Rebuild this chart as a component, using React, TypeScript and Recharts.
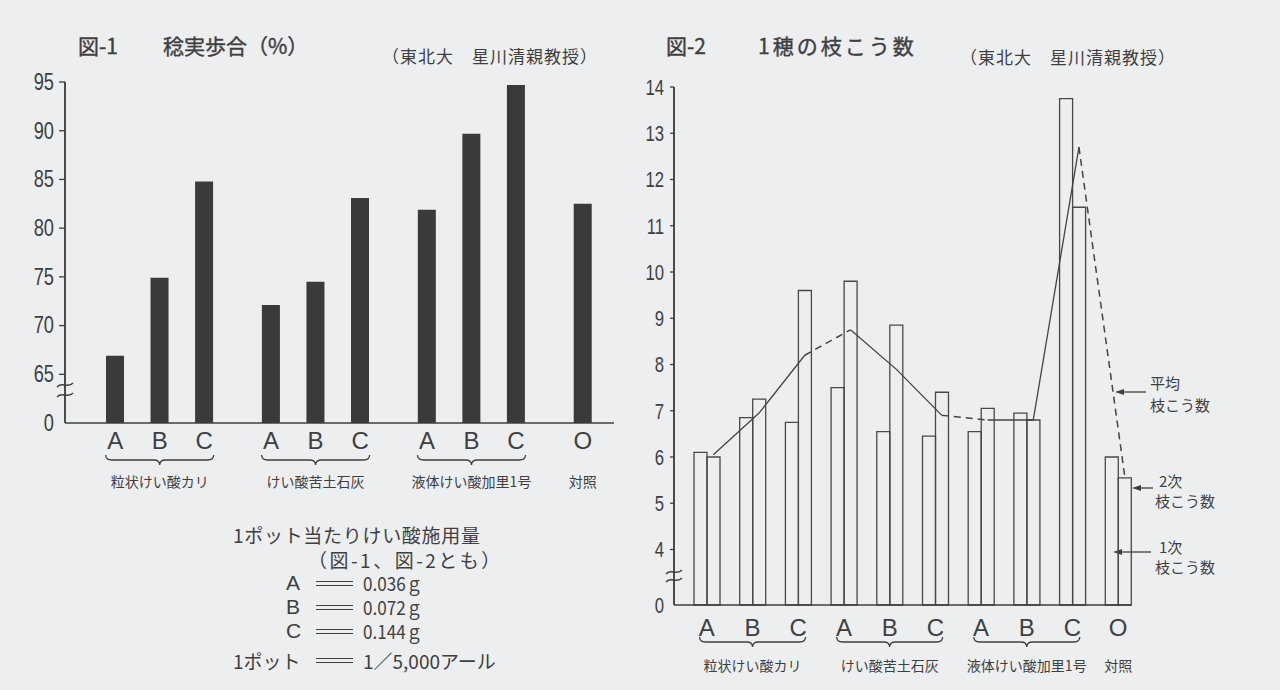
import { Bar, BarChart, CartesianGrid, ComposedChart, Line, XAxis, YAxis } from "recharts";

const INK = "#3f3f3f";
const PAPER = "#edeef0";
const JP = '"Noto Sans CJK JP", "Noto Sans", sans-serif';
const LATIN = '"Liberation Sans", Arial, sans-serif';

const DOSES = ["A", "B", "C"];
const MATERIALS = ["粒状けい酸カリ", "けい酸苦土石灰", "液体けい酸加里1号"];
const CONTROL_LABEL = "O";
const CONTROL_NAME = "対照";

// 図-1 稔実歩合(%) — A,B,C per material, then control
const RIPENING = [66.9, 74.9, 84.8, 72.1, 74.5, 83.1, 81.9, 89.7, 94.7, 82.5];
const RIPENING_TICKS = [60, 65, 70, 75, 80, 85, 90, 95]; // 60 is shown as the broken "0"

// 図-2 1穂の枝こう数
const PRIMARY = [6.1, 6.85, 6.75, 7.5, 6.55, 6.45, 6.55, 6.95, 13.75, 6.0];
const SECONDARY = [6.0, 7.25, 9.6, 9.8, 8.85, 7.4, 7.05, 6.8, 11.4, 5.55];
const MEAN = [6.05, 6.95, 8.2, 8.75, 7.9, 6.9, 6.8, 6.8, 12.7, 5.6];
const BRANCH_TICKS = [2.8, 4, 5, 6, 7, 8, 9, 10, 11, 12, 13, 14]; // 2.8 is the broken "0"

const AMOUNTS = ["0.036ｇ", "0.072ｇ", "0.144ｇ"];

type Cat = { id: string; label: string; group: string; center: boolean; brace: boolean };

const CATS: Cat[] = [
  ...MATERIALS.flatMap((g, gi) =>
    DOSES.map((d, di) => ({ id: `c${gi * 3 + di}`, label: d, group: g, center: d === "B", brace: true }))
  ),
  { id: "c9", label: CONTROL_LABEL, group: CONTROL_NAME, center: true, brace: false },
];

// fig 1 is laid out on half-width slots so the groups stand apart
const fig1Data = CATS.flatMap((c, i) => {
  const bar = { ...c, value: RIPENING[i] };
  if (i === CATS.length - 1) return [bar];
  const gaps = c.label === "C" ? 2 : 1;
  const spacers = Array.from({ length: gaps }, (_, k) => ({
    id: `g${i}_${k}`, label: "", group: "", center: false, brace: false, value: null,
  }));
  return [bar, ...spacers];
});

const fig2Data = CATS.map((c, i) => {
  const g = Math.floor(i / 3);
  return {
    ...c,
    primary: PRIMARY[i],
    secondary: SECONDARY[i],
    meanEven: g === 0 || g === 2 ? MEAN[i] : null,
    meanOdd: g === 1 ? MEAN[i] : null,
    meanLink: (i % 3 === 2 && i < 9) || (i % 3 === 0 && i > 0) ? MEAN[i] : null,
  };
});

const bracePath = (cx: number, y: number, h: number) =>
  `M${cx - h},${y - 5} Q${cx - h},${y} ${cx - h + 6},${y} L${cx - 6},${y} Q${cx},${y} ${cx},${y + 5} ` +
  `Q${cx},${y} ${cx + 6},${y} L${cx + h - 6},${y} Q${cx + h},${y} ${cx + h},${y - 5}`;

const xTick =
  (rows: any[], o: { letterDy: number; braceDy: number; nameDy: number; half: number; size: number }) =>
  (props: any) => {
    const { x, y } = props;
    const idx = props.index ?? props.payload?.index;
    const c = rows[idx];
    if (!c || !c.label) return <g />;
    return (
      <g>
        <text x={x} y={y + o.letterDy} textAnchor="middle" dominantBaseline="central"
          fontFamily={LATIN} fontSize={o.size} fill={INK}>
          {c.label}
        </text>
        {c.center && c.brace && (
          <path d={bracePath(x, y + o.braceDy, o.half)} fill="none" stroke={INK} strokeWidth={1.3} />
        )}
        {c.center && (
          <text x={x} y={y + o.nameDy} textAnchor="middle" dominantBaseline="central"
            fontFamily={JP} fontSize={14} fill={INK}>
            {c.group}
          </text>
        )}
      </g>
    );
  };

const yTick =
  (o: { zero: number; mark: number; gap: number; size: number; breaks: number[] }) => (props: any) => {
    const { x, y, payload } = props;
    const isZero = payload.value === o.zero;
    return (
      <g>
        {!isZero && <line x1={x - o.mark} x2={x} y1={y} y2={y} stroke={INK} strokeWidth={1.3} />}
        <text transform={`translate(${x - o.gap},${y}) scale(0.76,1)`} textAnchor="end"
          dominantBaseline="central" fontFamily={LATIN} fontSize={o.size} fill={INK}>
          {isZero ? "0" : payload.value}
        </text>
        {isZero &&
          o.breaks.map((d) => (
            <path key={d} d={`M${x - 8},${y + d + 2} C${x - 3},${y + d - 4} ${x + 3},${y + d + 4} ${x + 8},${y + d - 2}`}
              fill="none" stroke={INK} strokeWidth={1.3} />
          ))}
      </g>
    );
  };

// vertical axis drawn at the left edge of the plot area
const leftEdge = ({ offset }: any) => [offset.left];

const abs = (left: number, top: number, extra: any = {}) => ({
  position: "absolute" as const, left, top, whiteSpace: "nowrap" as const, ...extra,
});

const title = { fontSize: 21, lineHeight: "28px", WebkitTextStroke: `0.4px ${INK}` };
const note = { fontSize: 15, lineHeight: "17px" };

const Equals = () => (
  <span style={{ display: "inline-block", width: 37, height: 3, borderTop: `1.5px solid ${INK}`, borderBottom: `1.5px solid ${INK}`, verticalAlign: "middle" }} />
);

export default function App() {
  return (
    <div style={{ position: "absolute", left: 0, top: 0, width: 1280, height: 690, background: PAPER, color: INK, fontFamily: JP, overflow: "hidden" }}>
      {/* titles */}
      <div style={abs(78, 31, title)}>図-1</div>
      <div style={abs(163, 31, title)}>稔実歩合（%）</div>
      <div style={abs(382, 44, { fontSize: 17, lineHeight: "24px", letterSpacing: 1 })}>（東北大　星川清親教授）</div>
      <div style={abs(666, 31, title)}>図-2</div>
      <div style={abs(758, 31, { ...title, letterSpacing: 3 })}>1穂の枝こう数</div>
      <div style={abs(960, 45, { fontSize: 17, lineHeight: "24px", letterSpacing: 1 })}>（東北大　星川清親教授）</div>

      {/* 図-1 */}
      <div style={abs(0, 0)}>
        <BarChart width={640} height={500} data={fig1Data} margin={{ top: 82, right: 26, bottom: 10, left: 25 }}>
          <CartesianGrid horizontal={false} verticalCoordinatesGenerator={leftEdge} stroke={INK} strokeWidth={1.5} strokeDasharray="" />
          <XAxis dataKey="id" interval={0} height={67} tickSize={0} tickMargin={0} tickLine={false}
            padding={{ left: 39, right: 20 }} stroke={INK} axisLine={{ stroke: INK, strokeWidth: 1.5 }}
            tick={xTick(fig1Data, { letterDy: 17, braceDy: 37, nameDy: 58, half: 54, size: 24 })} />
          <YAxis type="number" domain={[60, 95]} ticks={RIPENING_TICKS} interval={0} width={40}
            tickSize={0} tickMargin={0} tickLine={false} stroke={INK} axisLine={{ stroke: INK, strokeWidth: 1.5 }}
            tick={yTick({ zero: 60, mark: 6, gap: 11, size: 24, breaks: [-38, -28] })} />
          <Bar dataKey="value" barSize={18} fill="#3a3a3a" isAnimationActive={false} />
        </BarChart>
      </div>

      {/* footnote */}
      <div style={abs(233, 523, { fontSize: 19, lineHeight: "24px", letterSpacing: 0.7 })}>1ポット当たりけい酸施用量</div>
      <div style={abs(308, 549, { fontSize: 19, lineHeight: "21px", letterSpacing: 2.5 })}>（図-1、図-2とも）</div>
      {DOSES.map((d, i) => (
        <div key={d} style={abs(286, 574 + i * 24, { fontSize: 18, lineHeight: "18px", height: 18, display: "flex", alignItems: "center" })}>
          <span style={{ fontFamily: LATIN, fontSize: 21, lineHeight: "18px", width: 30 }}>{d}</span>
          <Equals />
          <span style={{ marginLeft: 10, display: "inline-block", transform: "scaleX(0.9)", transformOrigin: "left", fontSize: 19, lineHeight: "18px" }}>{AMOUNTS[i]}</span>
        </div>
      ))}
      <div style={abs(233, 650, { fontSize: 19, lineHeight: "21px", display: "flex", alignItems: "center" })}>
        <span style={{ width: 83 }}>1ポット</span>
        <Equals />
        <span style={{ marginLeft: 10 }}>1／5,000アール</span>
      </div>

      {/* 図-2 */}
      <div style={abs(600, 0)}>
        <ComposedChart width={600} height={690} data={fig2Data} barGap={0}
          margin={{ top: 87, right: 69, bottom: 10, left: 34 }}>
          <CartesianGrid horizontal={false} verticalCoordinatesGenerator={leftEdge} stroke={INK} strokeWidth={1.5} strokeDasharray="" />
          <XAxis xAxisId="main" dataKey="id" interval={0} height={75} tickSize={0} tickMargin={0} tickLine={false}
            padding={{ left: 10, right: -10 }} stroke={INK} axisLine={{ stroke: INK, strokeWidth: 1.5 }}
            tick={xTick(fig2Data, { letterDy: 22, braceDy: 37, nameDy: 60, half: 53, size: 24 })} />
          <XAxis xAxisId="ln" dataKey="id" hide height={0} padding={{ left: 16.5, right: -16.5 }} />
          <YAxis type="number" domain={[2.8, 14]} ticks={BRANCH_TICKS} interval={0} width={40}
            tickSize={0} tickMargin={0} tickLine={false} stroke={INK} axisLine={{ stroke: INK, strokeWidth: 1.5 }}
            tick={yTick({ zero: 2.8, mark: 4, gap: 10, size: 22, breaks: [-33, -25] })} />
          <Bar xAxisId="main" dataKey="primary" barSize={13} fill="none" stroke="#484848" strokeWidth={1.3} isAnimationActive={false} />
          <Bar xAxisId="main" dataKey="secondary" barSize={13} fill="none" stroke="#484848" strokeWidth={1.3} isAnimationActive={false} />
          <Line xAxisId="ln" dataKey="meanEven" stroke="#444" strokeWidth={1.3} dot={false} connectNulls={false} isAnimationActive={false} />
          <Line xAxisId="ln" dataKey="meanOdd" stroke="#444" strokeWidth={1.3} dot={false} connectNulls={false} isAnimationActive={false} />
          <Line xAxisId="ln" dataKey="meanLink" stroke="#444" strokeWidth={1.5} strokeDasharray="7 5" dot={false} connectNulls={false} isAnimationActive={false} />
        </ComposedChart>
      </div>

      {/* legend annotations for 図-2 */}
      <svg width={1280} height={690} style={{ position: "absolute", left: 0, top: 0, pointerEvents: "none" }}>
        {[
          { x1: 1146, x2: 1115, y: 392 },
          { x1: 1153, x2: 1132, y: 488 },
          { x1: 1151, x2: 1113, y: 552 },
        ].map((a, i) => (
          <g key={i}>
            <line x1={a.x1} x2={a.x2 + 7} y1={a.y} y2={a.y} stroke={INK} strokeWidth={1.3} />
            <path d={`M${a.x2},${a.y} L${a.x2 + 9},${a.y - 3} L${a.x2 + 9},${a.y + 3} Z`} fill={INK} />
          </g>
        ))}
      </svg>
      <div style={abs(1150, 374, note)}>平均</div>
      <div style={abs(1150, 396, note)}>枝こう数</div>
      <div style={abs(1159, 472, note)}>2次</div>
      <div style={abs(1155, 492, note)}>枝こう数</div>
      <div style={abs(1159, 538, note)}>1次</div>
      <div style={abs(1155, 558, note)}>枝こう数</div>
    </div>
  );
}
